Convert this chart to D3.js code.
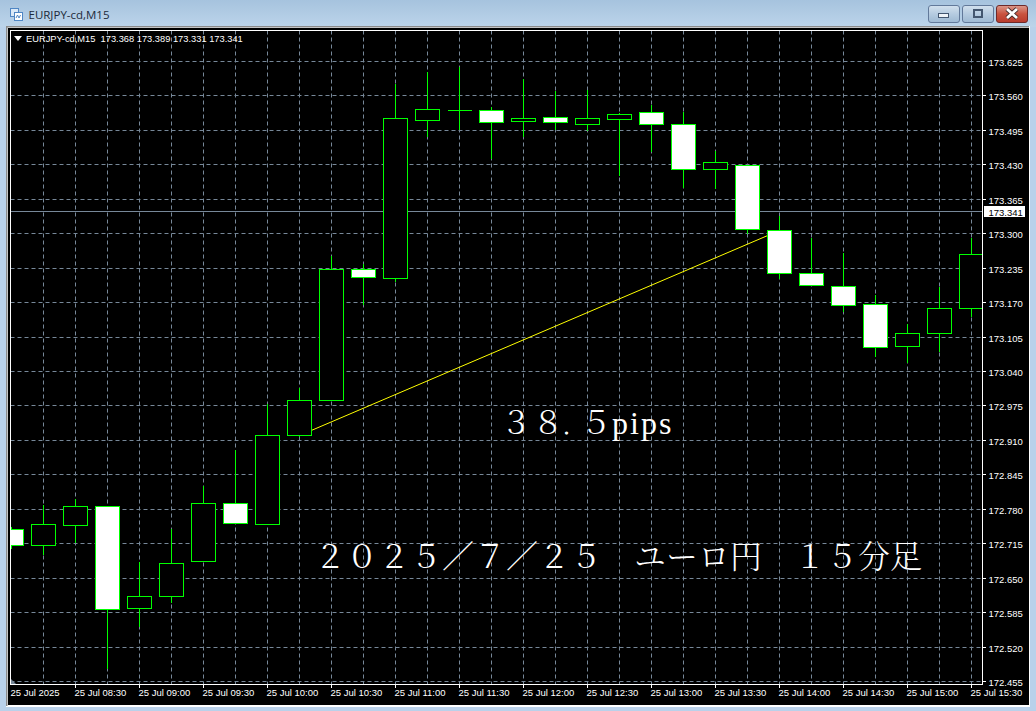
<!DOCTYPE html>
<html>
<head>
<meta charset="utf-8">
<script src="https://cdn.jsdelivr.net/npm/d3@7"></script>
<style>
  html, body { margin: 0; padding: 0; background: #b9d1ea; overflow: hidden; }
  svg { display: block; }
</style>
</head>
<body>
<div id="chart"></div>
<script>
// 15 minute bars, 25 Jul 2025
const times = ["08:00","08:15","08:30","08:45","09:00","09:15","09:30","09:45","10:00","10:15","10:30",
  "10:45","11:00","11:15","11:30","11:45","12:00","12:15","12:30","12:45","13:00","13:15","13:30",
  "13:45","14:00","14:15","14:30","14:45","15:00","15:15","15:30"];
const opens = [172.742,172.712,172.749,172.785,172.593,172.616,172.682,172.791,172.752,172.920,172.986,
  173.232,173.216,173.513,173.533,173.533,173.512,173.520,173.507,173.516,173.529,173.507,173.422,
  173.429,173.306,173.225,173.201,173.167,173.088,173.112,173.159];
const highs = [172.747,172.789,172.801,172.788,172.681,172.744,172.824,172.892,172.979,173.009,173.258,
  173.244,173.583,173.607,173.616,173.540,173.592,173.571,173.573,173.529,173.543,173.530,173.457,
  173.429,173.335,173.292,173.265,173.186,173.130,173.200,173.292];
const lows = [172.706,172.694,172.717,172.480,172.559,172.605,172.682,172.753,172.752,172.917,172.986,
  173.166,173.210,173.484,173.496,173.442,173.483,173.496,173.495,173.409,173.455,173.388,173.386,
  173.301,173.216,173.203,173.154,173.069,173.057,173.077,173.143];
const closes = [172.712,172.752,172.786,172.591,172.616,172.677,172.790,172.753,172.920,172.986,173.233,
  173.217,173.518,173.535,173.533,173.510,173.518,173.510,173.518,173.525,173.507,173.422,173.435,
  173.308,173.225,173.203,173.165,173.086,173.112,173.159,173.261];

const priceTicks = [173.625,173.560,173.495,173.430,173.365,173.300,173.235,173.170,173.105,173.040,
  172.975,172.910,172.845,172.780,172.715,172.650,172.585,172.520,172.455];
const timeTicks = ["08:00","08:30","09:00","09:30","10:00","10:30","11:00","11:30","12:00","12:30",
  "13:00","13:30","14:00","14:30","15:00","15:30"];

const bidPrice = 173.341;
const headerOHLC = "173.368 173.389 173.331 173.341";
const trendFrom = { time: "10:15", price: 172.920 };
const trendTo = { time: "14:00", price: 173.306 };

const parseTime = d3.timeParse("%H:%M");
const width = 1036, height = 711;
const plot = { left: 10.5, top: 30.5, right: 982.5, bottom: 684.5 };

const svg = d3.select("#chart").append("svg")
  .attr("width", width).attr("height", height);

// ---- window chrome
const defs = svg.append("defs");
const titleGrad = defs.append("linearGradient").attr("id", "titleGrad").attr("x2", 0).attr("y2", 1);
titleGrad.append("stop").attr("offset", "0").attr("stop-color", "#a6c3de");
titleGrad.append("stop").attr("offset", "1").attr("stop-color", "#bcd4ea");
const btnGrad = defs.append("linearGradient").attr("id", "btnGrad").attr("x2", 0).attr("y2", 1);
btnGrad.append("stop").attr("offset", "0").attr("stop-color", "#d3e1ee");
btnGrad.append("stop").attr("offset", "0.5").attr("stop-color", "#b5cbe0");
btnGrad.append("stop").attr("offset", "1").attr("stop-color", "#9db8d2");
const closeGrad = defs.append("linearGradient").attr("id", "closeGrad").attr("x2", 0).attr("y2", 1);
closeGrad.append("stop").attr("offset", "0").attr("stop-color", "#dc9a8c");
closeGrad.append("stop").attr("offset", "0.5").attr("stop-color", "#c9533f");
closeGrad.append("stop").attr("offset", "1").attr("stop-color", "#b83a2c");

svg.append("rect").attr("width", width).attr("height", height).attr("fill", "#b9d1ea");
svg.append("rect").attr("width", width).attr("height", 27).attr("fill", "url(#titleGrad)");
svg.append("rect").attr("x", 6).attr("y", 26).attr("width", 1024).attr("height", 681).attr("fill", "#ffffff");
svg.append("rect").attr("x", 6).attr("y", 26).attr("width", 1023).attr("height", 1.5).attr("fill", "#8a8a8a");
svg.append("rect").attr("x", 6).attr("y", 26).attr("width", 1.5).attr("height", 680).attr("fill", "#8a8a8a");
svg.append("rect").attr("x", 8).attr("y", 28).attr("width", 1021).attr("height", 677).attr("fill", "#000000");

// little window icon
const icon = svg.append("g");
icon.append("rect").attr("x", 10.5).attr("y", 8.5).attr("width", 8).attr("height", 8)
  .attr("fill", "#dbe9f7").attr("stroke", "#4f86c4");
icon.append("rect").attr("x", 14.5).attr("y", 12.5).attr("width", 8).attr("height", 8)
  .attr("fill", "#ffffff").attr("stroke", "#4f86c4");
icon.append("path").attr("d", "M16,18 L17.5,15 L19,18 L20.5,15").attr("fill", "none").attr("stroke", "#4f86c4");

svg.append("text").attr("x", 28.5).attr("y", 19).text("EURJPY-cd,M15")
  .attr("font-family", "'Open Sans', 'Noto Sans', sans-serif").attr("font-size", 11.5).attr("fill", "#1c2a3a");

// window buttons
const buttons = [{ x: 928.5, fill: "url(#btnGrad)", stroke: "#62799a" },
  { x: 962.5, fill: "url(#btnGrad)", stroke: "#62799a" },
  { x: 996.5, fill: "url(#closeGrad)", stroke: "#6e2a2a" }];
svg.selectAll(".winbtn").data(buttons).enter().append("rect")
  .attr("class", "winbtn")
  .attr("x", d => d.x).attr("y", 5.5).attr("width", 31).attr("height", 17).attr("rx", 2.5)
  .attr("fill", d => d.fill).attr("stroke", d => d.stroke);
svg.append("rect").attr("x", 938.5).attr("y", 13.5).attr("width", 10).attr("height", 4)
  .attr("fill", "#eef3f8").attr("stroke", "#43566f");
svg.append("rect").attr("x", 974).attr("y", 10).attr("width", 8).attr("height", 7)
  .attr("fill", "none").attr("stroke", "#43566f").attr("stroke-width", 2);
svg.append("path").attr("d", "M1007,9 L1017,18 M1017,9 L1007,18")
  .attr("stroke", "#3d2a2a").attr("stroke-width", 4.4);
svg.append("path").attr("d", "M1007,9 L1017,18 M1017,9 L1007,18")
  .attr("stroke", "#ffffff").attr("stroke-width", 2.8);

// ---- scales
const x = d3.scaleTime()
  .domain([parseTime(times[0]), parseTime(times[times.length - 1])])
  .range([11, 971]);
const y = d3.scaleLinear()
  .domain([172.455, 173.625])
  .range([681.5, 61.5]);
const px = t => Math.round(x(parseTime(t))) + 0.5;
const py = p => Math.floor(y(p)) + 0.5;

const bars = times.map((t, i) => ({ t, o: opens[i], h: highs[i], l: lows[i], c: closes[i] }));

defs.append("clipPath").attr("id", "plotClip").append("rect")
  .attr("x", plot.left).attr("y", plot.top)
  .attr("width", plot.right - plot.left).attr("height", plot.bottom - plot.top);

const gridColor = "#778899";
const chart = svg.append("g").attr("clip-path", "url(#plotClip)");

// grid
chart.selectAll(".vgrid").data(times.slice(1)).enter().append("line")
  .attr("class", "vgrid")
  .attr("x1", px).attr("x2", px).attr("y1", plot.top).attr("y2", plot.bottom)
  .attr("stroke", gridColor).attr("stroke-dasharray", "4,3");
chart.selectAll(".hgrid").data(priceTicks).enter().append("line")
  .attr("class", "hgrid")
  .attr("x1", plot.left).attr("x2", plot.right).attr("y1", py).attr("y2", py)
  .attr("stroke", gridColor).attr("stroke-dasharray", "4,3");

// bid line
chart.append("line")
  .attr("x1", plot.left).attr("x2", plot.right)
  .attr("y1", py(bidPrice)).attr("y2", py(bidPrice))
  .attr("stroke", gridColor);

// trend line, sits behind the candles
chart.append("line")
  .attr("x1", px(trendFrom.time)).attr("y1", py(trendFrom.price))
  .attr("x2", px(trendTo.time)).attr("y2", py(trendTo.price))
  .attr("stroke", "#ffff00").attr("stroke-width", 1);

// candles
const candle = chart.selectAll(".candle").data(bars).enter().append("g").attr("class", "candle");
candle.append("line")
  .attr("x1", d => px(d.t)).attr("x2", d => px(d.t))
  .attr("y1", d => py(d.h)).attr("y2", d => py(d.l))
  .attr("stroke", "#00ff00").attr("shape-rendering", "crispEdges");
// path and not rect, a doji has a body of zero height and still needs its bar
candle.append("path")
  .attr("d", d => {
    const top = py(Math.max(d.o, d.c)), bot = py(Math.min(d.o, d.c)), c = px(d.t);
    return `M${c - 12},${top}H${c + 12}V${bot}H${c - 12}Z`;
  })
  .attr("fill", d => d.c < d.o ? "#ffffff" : "#000000")
  .attr("stroke", "#00ff00").attr("shape-rendering", "crispEdges");

// small chart shift marker at the corner
chart.append("path").attr("d", "M11,679 L16,684 L11,684 Z").attr("fill", "#778899");

// frame
svg.append("rect")
  .attr("x", plot.left).attr("y", plot.top)
  .attr("width", plot.right - plot.left).attr("height", plot.bottom - plot.top)
  .attr("fill", "none").attr("stroke", "#ffffff");

// ---- axes
const labelFont = "'Liberation Sans', Arial, sans-serif";
const labelSize = 9.5;
const yAxis = d3.axisRight(y).tickValues(priceTicks).tickFormat(d3.format(".3f")).tickSize(3).tickPadding(3);
const gy = svg.append("g").attr("transform", `translate(${plot.right},0)`).call(yAxis);
gy.select(".domain").remove();
gy.selectAll(".tick").attr("transform", d => `translate(0,${py(d)})`);
gy.selectAll(".tick line").attr("stroke", "#ffffff").attr("shape-rendering", "crispEdges");
gy.selectAll(".tick text").attr("fill", "#ffffff").attr("dy", "0.42em")
  .attr("font-family", labelFont).attr("font-size", labelSize);

const xAxis = d3.axisBottom(x).tickValues(timeTicks.map(parseTime))
  .tickFormat(d => d3.timeFormat("%H:%M")(d) === "08:00" ? "25 Jul 2025" : "25 Jul " + d3.timeFormat("%H:%M")(d))
  .tickSize(3).tickPadding(2);
const gx = svg.append("g").attr("transform", `translate(0,${plot.bottom})`).call(xAxis);
gx.select(".domain").remove();
gx.selectAll(".tick").attr("transform", d => `translate(${x(d) + 0.5},0)`);
gx.selectAll(".tick line").attr("stroke", "#ffffff").attr("shape-rendering", "crispEdges");
gx.selectAll(".tick line").filter(d => d3.timeFormat("%H:%M")(d) === "08:00").remove();
gx.selectAll(".tick text").attr("fill", "#ffffff")
  .attr("font-family", labelFont).attr("font-size", labelSize)
  .attr("text-anchor", "start").attr("dx", "-1px");

// bid price tag
svg.append("rect").attr("x", 984).attr("y", py(bidPrice) - 5.5).attr("width", 41).attr("height", 11).attr("fill", "#ffffff");
svg.append("text").attr("x", 988.5).attr("y", py(bidPrice) + 4).text(d3.format(".3f")(bidPrice))
  .attr("font-family", labelFont).attr("font-size", labelSize).attr("fill", "#000000");

// header
svg.append("path").attr("d", "M14,36 L22,36 L18,41 Z").attr("fill", "#ffffff");
svg.append("text").attr("x", 26).attr("y", 42)
  .attr("font-family", labelFont).attr("font-size", 9.3).attr("fill", "#ffffff")
  .attr("xml:space", "preserve").style("white-space", "pre")
  .text("EURJPY-cd,M15  " + headerOHLC);

// annotations
const noteFont = "'Noto Serif CJK JP', 'Noto Sans CJK JP', serif";
const note1 = svg.append("text").attr("x", 500).attr("y", 434)
  .attr("font-family", noteFont).attr("font-size", 32).attr("font-weight", 300).attr("fill", "#ffffff");
note1.append("tspan").text("３８");
note1.append("tspan").attr("font-size", 16).attr("stroke", "#ffffff").attr("stroke-width", 1).text("．");
note1.append("tspan").text("５");
note1.append("tspan").attr("font-family", "'Liberation Serif', serif").attr("letter-spacing", 2).text("pips");

svg.append("text").attr("x", 314).attr("y", 568)
  .attr("font-family", noteFont).attr("font-size", 32).attr("font-weight", 300).attr("fill", "#ffffff")
  .text("２０２５／７／２５　ユーロ円　１５分足");
</script>
</body>
</html>
